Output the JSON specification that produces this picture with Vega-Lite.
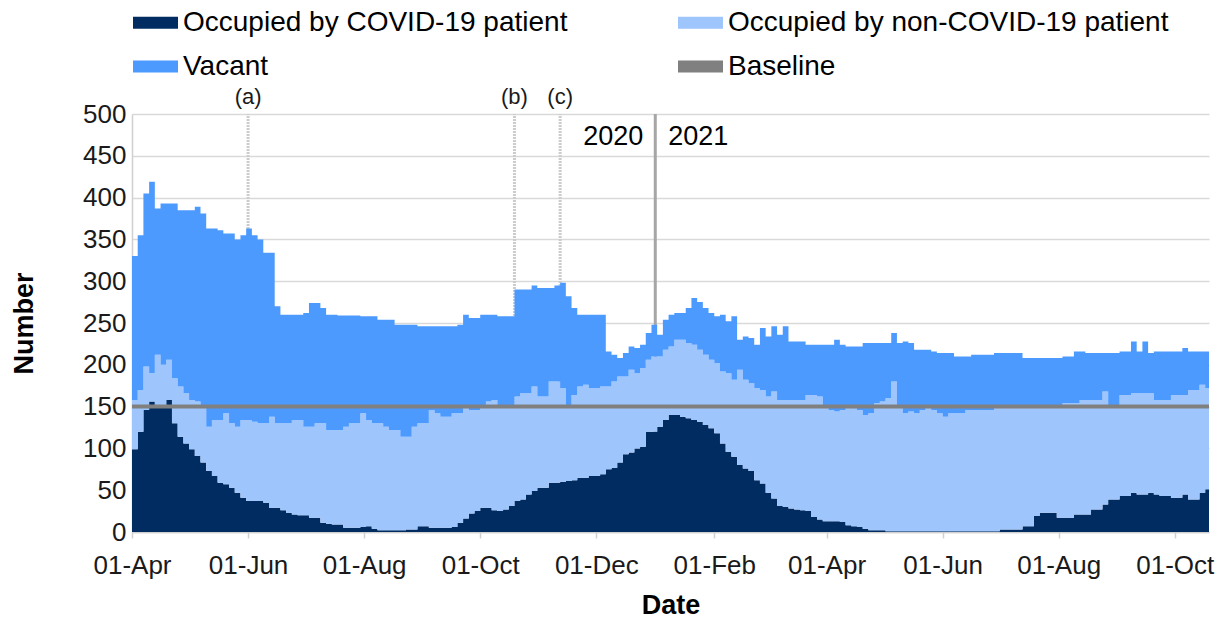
{
  "$schema": "https://vega.github.io/schema/vega-lite/v6.json",
  "autosize": {"type": "none"},
  "padding": {"left": 132, "top": 114, "right": 18, "bottom": 86},
  "width": 1077,
  "height": 418,
  "background": "white",
  "config": {
    "font": "Liberation Sans",
    "view": {"stroke": null},
    "axis": {"labelFont": "Liberation Sans", "titleFont": "Liberation Sans", "labelColor": "#1a1a1a", "titleColor": "#000000"}
  },
  "datasets": {
    "beds": [
      {"d":"2020-04-01","c":99,"n":59,"v":172},
      {"d":"2020-04-04","c":120,"n":50,"v":185},
      {"d":"2020-04-07","c":146,"n":52,"v":207},
      {"d":"2020-04-10","c":156,"n":34,"v":229},
      {"d":"2020-04-13","c":150,"n":62,"v":175},
      {"d":"2020-04-16","c":150,"n":50,"v":193},
      {"d":"2020-04-19","c":158,"n":48,"v":187},
      {"d":"2020-04-22","c":130,"n":54,"v":209},
      {"d":"2020-04-25","c":114,"n":60,"v":211},
      {"d":"2020-04-28","c":106,"n":60,"v":219},
      {"d":"2020-05-01","c":99,"n":59,"v":227},
      {"d":"2020-05-04","c":91,"n":65,"v":233},
      {"d":"2020-05-07","c":83,"n":67,"v":231},
      {"d":"2020-05-10","c":73,"n":53,"v":237},
      {"d":"2020-05-13","c":67,"n":67,"v":229},
      {"d":"2020-05-16","c":59,"n":75,"v":227},
      {"d":"2020-05-19","c":57,"n":85,"v":215},
      {"d":"2020-05-22","c":53,"n":77,"v":227},
      {"d":"2020-05-25","c":47,"n":79,"v":224},
      {"d":"2020-05-28","c":41,"n":93,"v":221},
      {"d":"2020-05-31","c":37,"n":97,"v":229},
      {"d":"2020-06-03","c":37,"n":95,"v":223},
      {"d":"2020-06-06","c":37,"n":93,"v":220},
      {"d":"2020-06-09","c":35,"n":95,"v":204},
      {"d":"2020-06-12","c":29,"n":109,"v":196},
      {"d":"2020-06-15","c":29,"n":101,"v":140},
      {"d":"2020-06-18","c":26,"n":104,"v":130},
      {"d":"2020-06-21","c":23,"n":107,"v":130},
      {"d":"2020-06-24","c":21,"n":113,"v":126},
      {"d":"2020-06-27","c":20,"n":114,"v":126},
      {"d":"2020-06-30","c":20,"n":106,"v":136},
      {"d":"2020-07-03","c":17,"n":109,"v":148},
      {"d":"2020-07-06","c":17,"n":113,"v":144},
      {"d":"2020-07-09","c":11,"n":119,"v":138},
      {"d":"2020-07-12","c":10,"n":112,"v":138},
      {"d":"2020-07-15","c":9,"n":113,"v":138},
      {"d":"2020-07-18","c":9,"n":113,"v":137},
      {"d":"2020-07-21","c":5,"n":121,"v":133},
      {"d":"2020-07-24","c":5,"n":125,"v":129},
      {"d":"2020-07-27","c":5,"n":125,"v":129},
      {"d":"2020-07-30","c":6,"n":136,"v":116},
      {"d":"2020-08-02","c":7,"n":127,"v":124},
      {"d":"2020-08-05","c":4,"n":126,"v":128},
      {"d":"2020-08-08","c":2,"n":128,"v":124},
      {"d":"2020-08-11","c":2,"n":124,"v":128},
      {"d":"2020-08-14","c":2,"n":120,"v":132},
      {"d":"2020-08-17","c":2,"n":120,"v":126},
      {"d":"2020-08-20","c":2,"n":112,"v":134},
      {"d":"2020-08-23","c":3,"n":111,"v":134},
      {"d":"2020-08-26","c":3,"n":123,"v":122},
      {"d":"2020-08-29","c":7,"n":123,"v":116},
      {"d":"2020-09-01","c":7,"n":123,"v":116},
      {"d":"2020-09-04","c":5,"n":141,"v":100},
      {"d":"2020-09-07","c":5,"n":137,"v":104},
      {"d":"2020-09-10","c":5,"n":133,"v":108},
      {"d":"2020-09-13","c":5,"n":133,"v":108},
      {"d":"2020-09-16","c":6,"n":136,"v":104},
      {"d":"2020-09-19","c":11,"n":131,"v":106},
      {"d":"2020-09-22","c":16,"n":134,"v":110},
      {"d":"2020-09-25","c":22,"n":124,"v":110},
      {"d":"2020-09-28","c":25,"n":121,"v":110},
      {"d":"2020-10-01","c":29,"n":121,"v":110},
      {"d":"2020-10-04","c":29,"n":127,"v":104},
      {"d":"2020-10-07","c":26,"n":132,"v":102},
      {"d":"2020-10-10","c":25,"n":125,"v":108},
      {"d":"2020-10-13","c":27,"n":123,"v":108},
      {"d":"2020-10-16","c":31,"n":119,"v":108},
      {"d":"2020-10-19","c":37,"n":125,"v":128},
      {"d":"2020-10-22","c":39,"n":127,"v":124},
      {"d":"2020-10-25","c":45,"n":121,"v":124},
      {"d":"2020-10-28","c":49,"n":125,"v":121},
      {"d":"2020-10-31","c":53,"n":109,"v":130},
      {"d":"2020-11-03","c":53,"n":109,"v":130},
      {"d":"2020-11-06","c":59,"n":121,"v":112},
      {"d":"2020-11-09","c":59,"n":121,"v":115},
      {"d":"2020-11-12","c":60,"n":112,"v":126},
      {"d":"2020-11-15","c":61,"n":91,"v":130},
      {"d":"2020-11-18","c":62,"n":102,"v":104},
      {"d":"2020-11-21","c":65,"n":109,"v":86},
      {"d":"2020-11-24","c":65,"n":111,"v":84},
      {"d":"2020-11-27","c":67,"n":105,"v":88},
      {"d":"2020-11-30","c":67,"n":105,"v":88},
      {"d":"2020-12-03","c":69,"n":105,"v":86},
      {"d":"2020-12-06","c":75,"n":99,"v":42},
      {"d":"2020-12-09","c":77,"n":103,"v":32},
      {"d":"2020-12-12","c":83,"n":103,"v":22},
      {"d":"2020-12-15","c":93,"n":93,"v":28},
      {"d":"2020-12-18","c":95,"n":99,"v":28},
      {"d":"2020-12-21","c":100,"n":90,"v":30},
      {"d":"2020-12-24","c":102,"n":94,"v":28},
      {"d":"2020-12-27","c":120,"n":86,"v":32},
      {"d":"2020-12-30","c":120,"n":90,"v":38},
      {"d":"2021-01-02","c":126,"n":84,"v":26},
      {"d":"2021-01-05","c":134,"n":84,"v":36},
      {"d":"2021-01-08","c":140,"n":82,"v":38},
      {"d":"2021-01-11","c":140,"n":90,"v":32},
      {"d":"2021-01-14","c":138,"n":92,"v":32},
      {"d":"2021-01-17","c":136,"n":90,"v":42},
      {"d":"2021-01-20","c":134,"n":90,"v":56},
      {"d":"2021-01-23","c":132,"n":86,"v":57},
      {"d":"2021-01-26","c":128,"n":84,"v":56},
      {"d":"2021-01-29","c":124,"n":82,"v":56},
      {"d":"2021-02-01","c":118,"n":84,"v":56},
      {"d":"2021-02-04","c":106,"n":86,"v":68},
      {"d":"2021-02-07","c":96,"n":94,"v":62},
      {"d":"2021-02-10","c":90,"n":92,"v":76},
      {"d":"2021-02-13","c":80,"n":114,"v":36},
      {"d":"2021-02-16","c":76,"n":106,"v":52},
      {"d":"2021-02-19","c":73,"n":105,"v":54},
      {"d":"2021-02-22","c":62,"n":110,"v":52},
      {"d":"2021-02-25","c":58,"n":112,"v":74},
      {"d":"2021-02-28","c":47,"n":115,"v":72},
      {"d":"2021-03-03","c":40,"n":128,"v":78},
      {"d":"2021-03-06","c":31,"n":127,"v":78},
      {"d":"2021-03-09","c":30,"n":128,"v":88},
      {"d":"2021-03-12","c":28,"n":130,"v":70},
      {"d":"2021-03-15","c":27,"n":131,"v":70},
      {"d":"2021-03-18","c":26,"n":132,"v":70},
      {"d":"2021-03-21","c":25,"n":139,"v":60},
      {"d":"2021-03-24","c":18,"n":146,"v":60},
      {"d":"2021-03-27","c":15,"n":147,"v":62},
      {"d":"2021-03-30","c":13,"n":139,"v":72},
      {"d":"2021-04-02","c":13,"n":133,"v":78},
      {"d":"2021-04-05","c":13,"n":131,"v":86},
      {"d":"2021-04-08","c":12,"n":134,"v":78},
      {"d":"2021-04-11","c":8,"n":142,"v":72},
      {"d":"2021-04-14","c":7,"n":141,"v":74},
      {"d":"2021-04-17","c":6,"n":140,"v":76},
      {"d":"2021-04-20","c":4,"n":136,"v":86},
      {"d":"2021-04-23","c":2,"n":140,"v":84},
      {"d":"2021-04-26","c":2,"n":152,"v":72},
      {"d":"2021-04-29","c":2,"n":154,"v":70},
      {"d":"2021-05-02","c":1,"n":159,"v":66},
      {"d":"2021-05-05","c":1,"n":179,"v":58},
      {"d":"2021-05-08","c":1,"n":149,"v":76},
      {"d":"2021-05-11","c":1,"n":141,"v":86},
      {"d":"2021-05-14","c":1,"n":143,"v":82},
      {"d":"2021-05-17","c":1,"n":141,"v":76},
      {"d":"2021-05-20","c":1,"n":145,"v":72},
      {"d":"2021-05-23","c":1,"n":149,"v":68},
      {"d":"2021-05-26","c":1,"n":145,"v":70},
      {"d":"2021-05-29","c":1,"n":141,"v":72},
      {"d":"2021-06-01","c":1,"n":137,"v":76},
      {"d":"2021-06-04","c":1,"n":141,"v":72},
      {"d":"2021-06-07","c":1,"n":141,"v":68},
      {"d":"2021-06-10","c":1,"n":141,"v":68},
      {"d":"2021-06-13","c":1,"n":145,"v":64},
      {"d":"2021-06-16","c":1,"n":145,"v":66},
      {"d":"2021-06-19","c":1,"n":145,"v":66},
      {"d":"2021-06-22","c":1,"n":145,"v":66},
      {"d":"2021-06-25","c":1,"n":145,"v":66},
      {"d":"2021-06-28","c":1,"n":149,"v":64},
      {"d":"2021-07-01","c":3,"n":147,"v":64},
      {"d":"2021-07-04","c":3,"n":147,"v":64},
      {"d":"2021-07-07","c":3,"n":147,"v":64},
      {"d":"2021-07-10","c":3,"n":147,"v":64},
      {"d":"2021-07-13","c":7,"n":145,"v":56},
      {"d":"2021-07-16","c":7,"n":145,"v":56},
      {"d":"2021-07-19","c":19,"n":133,"v":56},
      {"d":"2021-07-22","c":23,"n":129,"v":56},
      {"d":"2021-07-25","c":23,"n":129,"v":56},
      {"d":"2021-07-28","c":23,"n":129,"v":56},
      {"d":"2021-07-31","c":17,"n":135,"v":56},
      {"d":"2021-08-03","c":17,"n":137,"v":56},
      {"d":"2021-08-06","c":17,"n":137,"v":56},
      {"d":"2021-08-09","c":21,"n":133,"v":62},
      {"d":"2021-08-12","c":21,"n":137,"v":58},
      {"d":"2021-08-15","c":21,"n":137,"v":56},
      {"d":"2021-08-18","c":27,"n":131,"v":56},
      {"d":"2021-08-21","c":27,"n":131,"v":56},
      {"d":"2021-08-24","c":33,"n":135,"v":46},
      {"d":"2021-08-27","c":39,"n":113,"v":62},
      {"d":"2021-08-30","c":39,"n":113,"v":62},
      {"d":"2021-09-02","c":43,"n":121,"v":52},
      {"d":"2021-09-05","c":43,"n":121,"v":52},
      {"d":"2021-09-08","c":47,"n":119,"v":62},
      {"d":"2021-09-11","c":45,"n":121,"v":50},
      {"d":"2021-09-14","c":45,"n":121,"v":62},
      {"d":"2021-09-17","c":47,"n":119,"v":48},
      {"d":"2021-09-20","c":45,"n":113,"v":58},
      {"d":"2021-09-23","c":43,"n":115,"v":58},
      {"d":"2021-09-26","c":43,"n":115,"v":58},
      {"d":"2021-09-29","c":41,"n":123,"v":52},
      {"d":"2021-10-02","c":41,"n":123,"v":52},
      {"d":"2021-10-05","c":45,"n":119,"v":56},
      {"d":"2021-10-08","c":39,"n":131,"v":46},
      {"d":"2021-10-11","c":39,"n":131,"v":46},
      {"d":"2021-10-14","c":47,"n":129,"v":40},
      {"d":"2021-10-17","c":51,"n":121,"v":44},
      {"d":"2021-10-19","c":51,"n":121,"v":44}
    ]
  },
  "layer": [
    {
      "data": {"values": [
        {"d":"2020-06-01","label":"(a)"},
        {"d":"2020-10-19","label":"(b)"},
        {"d":"2020-11-12","label":"(c)"}
      ], "format": {"parse": {"d": "date:'%Y-%m-%d'"}}},
      "layer": [
        {
          "mark": {"type": "rule", "color": "#cccccc", "strokeWidth": 3, "strokeDash": [2, 1]},
          "encoding": {
            "x": {"field": "d", "type": "temporal"},
            "y": {"datum": 0, "type": "quantitative"},
            "y2": {"datum": 500}
          }
        },
        {
          "mark": {"type": "text", "fontSize": 22, "font": "Liberation Sans", "color": "#1a1a1a", "baseline": "middle", "align": "center", "dy": -17},
          "encoding": {
            "x": {"field": "d", "type": "temporal"},
            "y": {"datum": 500, "type": "quantitative"},
            "text": {"field": "label"}
          }
        }
      ]
    },
    {
      "data": {"values": [
        {"d":"2021-01-01","left":"2020","right":"2021"}
      ], "format": {"parse": {"d": "date:'%Y-%m-%d'"}}},
      "layer": [
        {
          "mark": {"type": "rule", "color": "#a6a6a6", "strokeWidth": 3},
          "encoding": {
            "x": {"field": "d", "type": "temporal"},
            "y": {"datum": 0, "type": "quantitative"},
            "y2": {"datum": 500}
          }
        },
        {
          "mark": {"type": "text", "fontSize": 27, "font": "Liberation Sans", "color": "#000000", "baseline": "middle", "align": "right", "dx": -12},
          "encoding": {
            "x": {"field": "d", "type": "temporal"},
            "y": {"datum": 473, "type": "quantitative"},
            "text": {"field": "left"}
          }
        },
        {
          "mark": {"type": "text", "fontSize": 27, "font": "Liberation Sans", "color": "#000000", "baseline": "middle", "align": "left", "dx": 13},
          "encoding": {
            "x": {"field": "d", "type": "temporal"},
            "y": {"datum": 473, "type": "quantitative"},
            "text": {"field": "right"}
          }
        }
      ]
    },
    {
      "data": {"name": "beds", "format": {"parse": {"d": "date:'%Y-%m-%d'"}}},
      "transform": [{"fold": ["c", "n", "v"], "as": ["key", "value"]}],
      "mark": {"type": "area", "interpolate": "step-after", "opacity": 1},
      "encoding": {
        "x": {
          "field": "d",
          "type": "temporal",
          "scale": {"domain": [{"year":2020,"month":4,"date":1},{"year":2021,"month":10,"date":19}]},
          "axis": {
            "title": "Date",
            "titleFontSize": 27,
            "titleFontWeight": "bold",
            "titlePadding": 14,
            "format": "%d-%b",
            "labelFontSize": 26,
            "labelPadding": 14,
            "labelOverlap": false,
            "labelFlush": false,
            "values": [
              {"year":2020,"month":4,"date":1},{"year":2020,"month":6,"date":1},{"year":2020,"month":8,"date":1},
              {"year":2020,"month":10,"date":1},{"year":2020,"month":12,"date":1},{"year":2021,"month":2,"date":1},
              {"year":2021,"month":4,"date":1},{"year":2021,"month":6,"date":1},{"year":2021,"month":8,"date":1},
              {"year":2021,"month":10,"date":1}
            ],
            "grid": false,
            "domainColor": "#d0d0d0",
            "domainWidth": 1.5,
            "tickColor": "#d0d0d0",
            "tickWidth": 1.5,
            "tickSize": 6
          }
        },
        "y": {
          "field": "value",
          "type": "quantitative",
          "stack": "zero",
          "scale": {"domain": [0, 500], "nice": false},
          "axis": {
            "title": "Number",
            "titleFontSize": 27,
            "titleFontWeight": "bold",
            "titlePadding": 44,
            "values": [0, 50, 100, 150, 200, 250, 300, 350, 400, 450, 500],
            "labelFontSize": 26,
            "labelPadding": 6,
            "ticks": false,
            "domain": true,
            "domainColor": "#d0d0d0",
            "domainWidth": 1.5,
            "grid": true,
            "gridColor": "#d9d9d9",
            "gridWidth": 1.5
          }
        },
        "order": {"field": "key", "type": "ordinal", "sort": "ascending"},
        "color": {
          "field": "key",
          "type": "nominal",
          "scale": {"domain": ["c", "n", "v", "b"], "range": ["#002c61", "#9fc5fd", "#4d9aff", "#808080"]},
          "legend": {
            "orient": "none",
            "legendX": 1,
            "legendY": -114,
            "direction": "horizontal",
            "columns": 2,
            "columnPadding": 110,
            "rowPadding": 7,
            "title": null,
            "symbolType": "M-1,-0.27H1V0.27H-1Z",
            "symbolSize": 2025,
            "symbolStrokeWidth": 0,
            "symbolOpacity": 1,
            "labelFont": "Liberation Sans",
            "labelFontSize": 28,
            "labelColor": "#000000",
            "labelLimit": 800,
            "labelOffset": 5,
            "labelExpr": "datum.label == 'c' ? 'Occupied by COVID-19 patient' : datum.label == 'n' ? 'Occupied by non-COVID-19 patient' : datum.label == 'v' ? 'Vacant' : 'Baseline'"
          }
        }
      }
    },
    {
      "data": {"values": [{"baseline":150,"series":"b"}]},
      "mark": {"type": "rule", "strokeWidth": 4},
      "encoding": {
        "y": {"field": "baseline", "type": "quantitative"},
        "color": {"field": "series", "type": "nominal"}
      }
    }
  ]
}
